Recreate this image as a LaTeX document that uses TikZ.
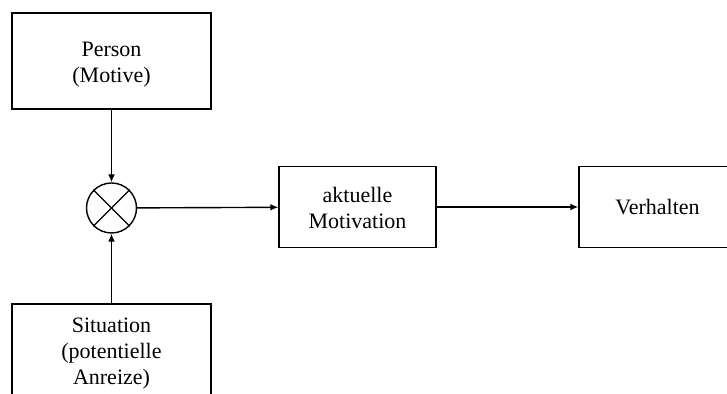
\documentclass[tikz,border=0pt]{standalone}
\usepackage{fontspec}
\setmainfont{Liberation Serif}
\usetikzlibrary{arrows.meta}
\begin{document}
\begin{tikzpicture}[x=0.5pt,y=-0.5pt,
  frame/.style={draw, line width=0.7pt, inner sep=0pt},
  txt/.style={align=center, inner sep=0pt, font=\fontsize{11pt}{13pt}\selectfont},
  conn/.style={line width=0.7pt, -{Latex[length=4pt,width=3.4pt]}}]
\useasboundingbox (0,0) rectangle (727,394);
\clip (0,0) rectangle (727,394);
\node[frame, minimum width=99.5pt, minimum height=48pt] (person) at (111.5,61) {};
\node[txt] (persontxt) at ([yshift=-2pt]person.center) {Person\\(Motive)};
\node[frame, minimum width=99.5pt, minimum height=48pt] (situation) at (111.5,352) {};
\node[txt] (situationtxt) at ([yshift=-0.8pt]situation.center) {Situation\\(potentielle\\Anreize)};
\node[frame, circle, minimum size=25pt] (mult) at (111.5,208) {};
\draw[line width=0.7pt] (mult.north west) -- (mult.south east);
\draw[line width=0.7pt] (mult.north east) -- (mult.south west);
\node[frame, minimum width=78.5pt, minimum height=40.5pt] (motivation) at (357.5,207) {};
\node[txt] (motivationtxt) at ([yshift=-0.7pt]motivation.center) {aktuelle\\Motivation};
\node[frame, minimum width=78.5pt, minimum height=40.5pt] (verhalten) at (657.5,207) {};
\node[txt] (verhaltentxt) at (verhalten.center) {Verhalten};
\draw[conn] (person) -- (mult);
\draw[conn] (situation) -- (mult);
\draw[conn] (mult) -- (motivation);
\draw[conn] (motivation) -- (verhalten);
\end{tikzpicture}
\end{document}
